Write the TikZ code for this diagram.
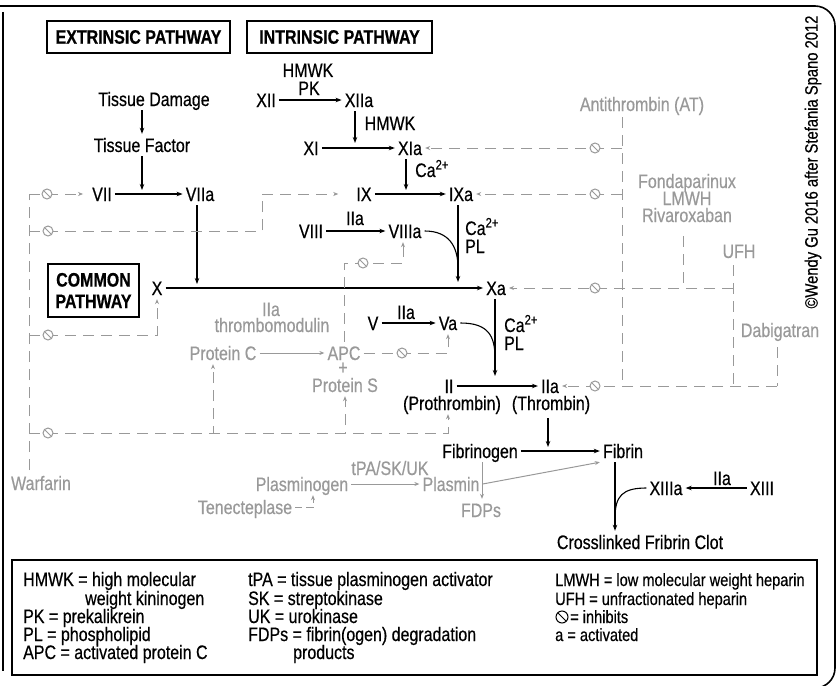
\documentclass[tikz,border=0pt]{standalone}
\usepackage{fontspec}
\setmainfont{Liberation Sans}[FakeStretch=0.82, FakeBold=0.5]
\usetikzlibrary{arrows.meta}
\definecolor{gcol}{gray}{0.6}
\begin{document}
\begin{tikzpicture}[x=1pt,y=-1pt, font=\fontsize{19.5}{21}\selectfont,
  t/.style={inner xsep=3pt, inner ysep=4pt, text height=14pt, text depth=0pt, anchor=base},
  lab/.style={t, inner sep=0pt},
  g/.style={t, text=gcol},
  arr/.style={-{Stealth[length=6pt,width=4.5pt]}, line width=1.1pt},
  ln/.style={line width=1.1pt},
  garr/.style={draw=gcol, -{Stealth[length=5pt,width=4pt]}, line width=1pt},
  gd/.style={draw=gcol, line width=1pt, dash pattern=on 11pt off 7pt},
  gda/.style={gd, -{Stealth[length=5pt,width=4pt]}},
  inh/.style={circle, draw=gcol, fill=white, line width=1pt, inner sep=0pt, minimum size=10pt,
    path picture={\draw[gcol, line width=1pt] (path picture bounding box.north west) -- (path picture bounding box.south east);}},
  box/.style={draw, line width=1.5pt, font=\fontsize{19.5}{21}\selectfont\bfseries, inner sep=0pt},
  leg/.style={anchor=base west, inner sep=0pt},
  legr/.style={leg, font=\fontsize{17.8}{19}\selectfont}
]
\useasboundingbox (0,0) rectangle (840,685);

% frame
\draw[line width=1.6pt, rounded corners=20pt] (0,6) -- (835,6) -- (835,688) -- (808,688);
\draw[line width=1.6pt] (3,12) -- (3,671);

% title boxes
\node[box, minimum width=183pt, minimum height=32pt] (ext) at (138.5,37) {EXTRINSIC PATHWAY};
\node[box, minimum width=185pt, minimum height=32pt] (int) at (339.5,37) {INTRINSIC PATHWAY};
\node[box, minimum width=91pt, minimum height=53pt, align=center, font=\fontsize{19.5}{21.5}\selectfont\bfseries] (com) at (93.5,290.5) {COMMON\\PATHWAY};

% black nodes
\node[t] (TD) at (154,106) {Tissue Damage};
\node[t] (TF) at (142,152) {Tissue Factor};
\node[t] (VII) at (102,201) {VII};
\node[t] (VIIa) at (200,201) {VIIa};
\node[lab] (HMWKa) at (308,77) {HMWK};
\node[lab] (PK) at (309,95) {PK};
\node[t] (XII) at (266,107) {XII};
\node[t] (XIIa) at (359,107) {XIIa};
\node[lab] (HMWKb) at (390,130) {HMWK};
\node[t] (XI) at (311,155) {XI};
\node[t] (XIa) at (410,155) {XIa};
\node[lab, anchor=base west] (ca1) at (415,177) {Ca\textsuperscript{2+}};
\node[t] (IX) at (364,201) {IX};
\node[t] (IXa) at (461,201) {IXa};
\node[lab] (IIa1) at (355,225) {IIa};
\node[t] (VIII) at (311,238) {VIII};
\node[t] (VIIIa) at (405,238) {VIIIa};
\node[lab, anchor=base west] (ca2) at (465,235) {Ca\textsuperscript{2+}};
\node[lab, anchor=base west] (pl2) at (465,253) {PL};
\node[t] (X) at (157,295) {X};
\node[t] (Xa) at (496,295) {Xa};
\node[lab] (IIa2) at (406,319) {IIa};
\node[t] (V) at (373,330) {V};
\node[t] (Va) at (448,330) {Va};
\node[lab, anchor=base west] (ca3) at (504,332) {Ca\textsuperscript{2+}};
\node[lab, anchor=base west] (pl3) at (504,350) {PL};
\node[t] (II) at (449,393) {II};
\node[t] (IIa) at (550,393) {IIa};
\node[t] (Pro) at (452,410) {(Prothrombin)};
\node[t] (Thr) at (551,410) {(Thrombin)};
\node[t] (Fbg) at (480,458) {Fibrinogen};
\node[t] (Fib) at (623,458) {Fibrin};
\node[t] (XIIIa) at (666,495) {XIIIa};
\node[t] (XIII) at (762,495) {XIII};
\node[lab] (IIa3) at (722,485) {IIa};
\node[t] (Clot) at (640,549) {Crosslinked Fribrin Clot};

% grey nodes
\node[lab, text=gcol] (gIIa) at (271,316) {IIa};
\node[lab, text=gcol] (thr) at (272,332) {thrombomodulin};
\node[g] (PC) at (223,360) {Protein C};
\node[g] (APC) at (344,360) {APC};
\node[lab, text=gcol, text height=10pt] (plus) at (343,374) {+};
\node[g] (PS) at (345,392) {Protein S};
\node[lab, text=gcol] (tpa) at (390,475) {tPA/SK/UK};
\node[g] (Plg) at (302,491) {Plasminogen};
\node[g] (Pla) at (451,491) {Plasmin};
\node[g] (FDP) at (481,517) {FDPs};
\node[g] (Ten) at (245,514) {Tenecteplase};
\node[g] (War) at (41,490) {Warfarin};
\node[g] (AT) at (642,111) {Antithrombin (AT)};
\node[lab, text=gcol] (Fonda) at (687,188) {Fondaparinux};
\node[lab, text=gcol] (LMWH) at (687,205) {LMWH};
\node[g] (Riva) at (687,222) {Rivaroxaban};
\node[g] (UFH) at (739,258) {UFH};
\node[g] (Dabi) at (780,337) {Dabigatran};

% copyright
\node[rotate=90, font=\fontsize{18}{20}\selectfont, inner sep=0pt] (copy) at (813,162) {©Wendy Gu 2016 after Stefania Spano 2012};

% black connectors
\draw[arr] (TD.south -| TF.north) -- (TF.north);
\draw[arr, shorten >=4pt] (TF.south) -- (TF.south |- VII.center);
\draw[arr] (VII) -- (VIIa);
\draw[arr, shorten >=4pt] ([xshift=-3pt]VIIa.south) -- ([xshift=-3pt]VIIa.south |- X.center);
\draw[arr] (X) -- (Xa);
\draw[arr] (XII) -- (XIIa);
\draw[arr, shorten >=5pt] ([xshift=-4pt]XIIa.south) -- ([xshift=-4pt]XIIa.south |- XI.center);
\draw[arr] (XI) -- (XIa);
\draw[arr, shorten >=4pt] ([xshift=-4pt]XIa.south) -- ([xshift=-4pt]XIa.south |- IX.center);
\draw[arr] (IX) -- (IXa);
\draw[arr, shorten >=6pt] ([xshift=-3pt]IXa.south) -- ([xshift=-3pt]IXa.south |- Xa.center);
\draw[arr] (VIII) -- (VIIIa);
\coordinate (j1) at (458,268);
\draw[ln] (VIIIa.east) .. controls +(24,0) and +(0,-22) .. (j1);
\draw[arr, shorten >=10pt] ([xshift=-1pt]Xa.south) -- ([xshift=-1pt]Xa.south |- II.center);
\draw[arr] (V) -- (Va);
\coordinate (j2) at (495,358);
\draw[ln] (Va.east) .. controls +(28,0) and +(0,-22) .. (j2);
\draw[arr] (II) -- (IIa);
\draw[arr, shorten <=4pt, shorten >=4pt] ([xshift=-3pt]Thr.south) -- ([xshift=-3pt]Thr.south |- Fbg.center);
\draw[arr] (Fbg) -- (Fib);
\draw[arr] ([xshift=-8pt]Fib.south) -- ([xshift=-8pt]Fib.south |- Clot.north);
\coordinate (j3) at (615,518);
\draw[ln] (XIIIa.west) .. controls +(-24,0) and +(0,-22) .. (j3);
\draw[arr] (XIII) -- (XIIIa);

% grey solid connectors
\draw[garr] (PC) -- (APC);
\draw[garr] (Plg) -- (Pla);
\draw[garr] ([xshift=2pt]Fbg.south) -- ([xshift=2pt]Fbg.south |- FDP.north);
\draw[garr] (Pla.east) -- (Fib.south west);
\draw[garr, dash pattern=on 7pt off 4pt] (Ten.east) -| ([xshift=11pt]Plg.south);

% Warfarin network
\coordinate (w0) at (29,470);
\coordinate (wTop) at (29,194);
\coordinate (w231) at (29,231);
\coordinate (w335) at (29,335);
\coordinate (w433) at (29,433);
\coordinate (c1) at (262,231);
\coordinate (c2) at (262,194);
\draw[gd] (w0) -- (wTop);
\draw[gda, shorten >=6pt] (wTop) -- (VII.west);
\draw[gda, shorten >=15pt] (w231) -- (c1) -- (c2) -- (IX.west);
\draw[gda] (w335) -| (X.south);
\draw[gda] (w433) -| ([xshift=-10pt]PC.south);
\draw[gda] (w433) -| (PS.south);
\draw[gda] (w433) -| ([xshift=-4pt]Pro.south);

% APC network
\coordinate (a1) at (344,263);
\draw[gda] (APC.north) -- (a1) -| ([xshift=-2pt]VIIIa.south);
\draw[gda] (APC.east) -| (Va.south);

% Antithrombin network
\coordinate (at0) at (622,117);
\coordinate (at1) at (622,148);
\coordinate (at2) at (622,194);
\coordinate (at3) at (622,386);
\coordinate (u1) at (733,288);
\coordinate (d1) at (777,386);
\draw[gd] (at0) -- (at3);
\draw[gda] (at1) -- (XIa.east);
\draw[gda] (at2) -- (IXa.east);
\draw[gda] (u1) -- (Xa.east);
\draw[gda] (d1) -- (IIa.east);
\draw[gd] ([xshift=-4pt,yshift=-10pt]Riva.south) -- ([xshift=-4pt]Riva.south |- Xa.center);
\draw[gd] ([xshift=-6pt,yshift=-3pt]UFH.south) -- ([xshift=-6pt]UFH.south |- IIa.center);
\draw[gd] ([xshift=-3pt,yshift=-6pt]Dabi.south) -- ([xshift=-3pt]Dabi.south |- IIa.center);

% inhibit symbols
\node[inh] (i1) at (47,194) {};
\node[inh] (i2) at (48,231) {};
\node[inh] (i3) at (48,335) {};
\node[inh] (i4) at (48,433) {};
\node[inh] (i5) at (363,263) {};
\node[inh] (i6) at (402,353) {};
\node[inh] (i7) at (595,148) {};
\node[inh] (i8) at (595,194) {};
\node[inh] (i9) at (595,288) {};
\node[inh] (i10) at (595,386) {};

% legend
\node[draw, line width=1.5pt, minimum width=805pt, minimum height=115pt, inner sep=0pt] (legbox) at (414.5,617.5) {};
\node[leg] (l1) at (23,586) {HMWK = high molecular};
\node[leg] (l2) at (85,605) {weight kininogen};
\node[leg] (l3) at (23,623) {PK = prekalikrein};
\node[leg] (l4) at (23,641) {PL = phospholipid};
\node[leg] (l5) at (23,659) {APC = activated protein C};
\node[leg] (m1) at (248,586) {tPA = tissue plasminogen activator};
\node[leg] (m2) at (248,605) {SK = streptokinase};
\node[leg] (m3) at (248,623) {UK = urokinase};
\node[leg] (m4) at (248,641) {FDPs = fibrin(ogen) degradation};
\node[leg] (m5) at (293,659) {products};
\node[legr] (r1) at (555,586) {LMWH = low molecular weight heparin};
\node[legr] (r2) at (555,605) {UFH = unfractionated heparin};
\node[inh, draw=black, minimum size=12pt, path picture={\draw[black, line width=1pt] (path picture bounding box.north west) -- (path picture bounding box.south east);}] (iL) at (562,617) {};
\node[legr] (r3) at (570,623) {= inhibits};
\node[legr] (r4) at (555,641) {a = activated};
\end{tikzpicture}
\end{document}
